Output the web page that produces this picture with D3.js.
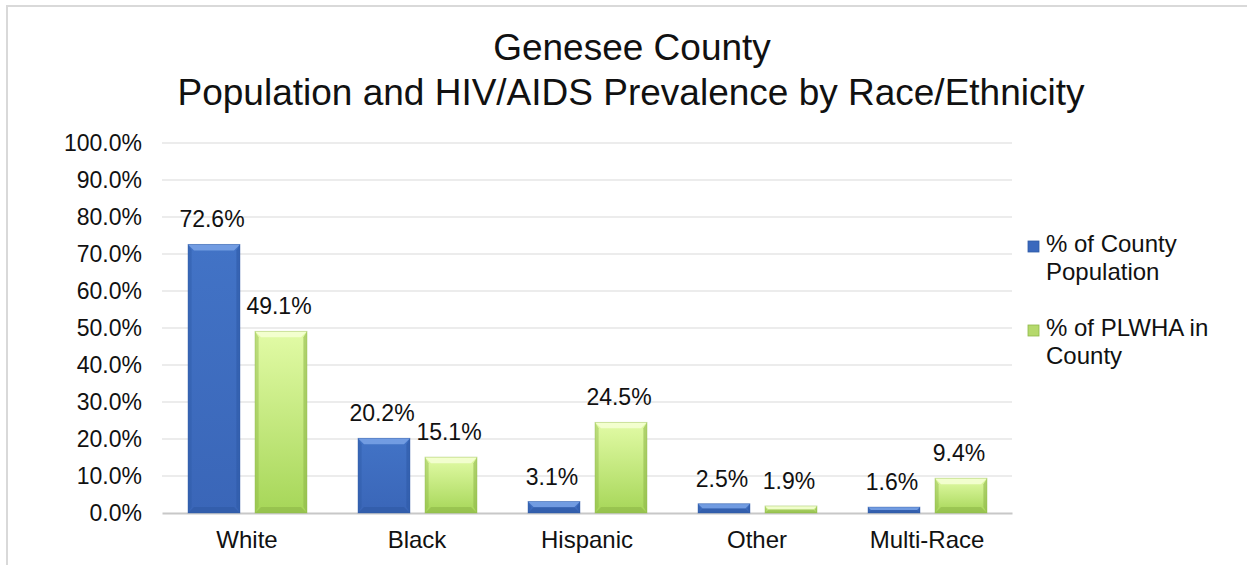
<!DOCTYPE html>
<html>
<head>
<meta charset="utf-8">
<script src="https://cdn.jsdelivr.net/npm/d3@7"></script>
<style>
  body { margin: 0; background: #fff; }
  text { font-family: "Liberation Sans", Arial, sans-serif; fill: #111; }
</style>
</head>
<body>
<script>
const categories = ["White", "Black", "Hispanic", "Other", "Multi-Race"];
const seriesNames = ["% of County Population", "% of PLWHA in County"];
const popValues = [72.6, 20.2, 3.1, 2.5, 1.6];
const plwhaValues = [49.1, 15.1, 24.5, 1.9, 9.4];
const yTicks = [0, 10, 20, 30, 40, 50, 60, 70, 80, 90, 100];
const legendLines = [["% of County", "Population"], ["% of PLWHA in", "County"]];

const width = 1247, height = 565;
const plot = { left: 162, right: 1012, top: 143, bottom: 513 };

const svg = d3.select("body").append("svg")
  .attr("width", width)
  .attr("height", height);

// outer chart border
svg.append("rect")
  .attr("x", 7).attr("y", 6)
  .attr("width", width + 20).attr("height", height + 20)
  .attr("fill", "none")
  .attr("stroke", "#d9d9d9")
  .attr("stroke-width", 2);

// gradients
const defs = svg.append("defs");
const blueGrad = defs.append("linearGradient").attr("id", "gBlue")
  .attr("x1", 0).attr("y1", 0).attr("x2", 0).attr("y2", 1);
blueGrad.append("stop").attr("offset", "0%").attr("stop-color", "#4273c6");
blueGrad.append("stop").attr("offset", "100%").attr("stop-color", "#3a66b8");
const greenGrad = defs.append("linearGradient").attr("id", "gGreen")
  .attr("x1", 0).attr("y1", 0).attr("x2", 0).attr("y2", 1);
greenGrad.append("stop").attr("offset", "0%").attr("stop-color", "#e2fba6");
greenGrad.append("stop").attr("offset", "100%").attr("stop-color", "#a6d658");

const styles = [
  { fill: "url(#gBlue)", top: "#7aa3e6", side: "#2f5aa6", bottom: "#2c56a0", swatch: "#3a68bd" },
  { fill: "url(#gGreen)", top: "#f6ffd6", side: "#8fb84a", bottom: "#88b043", swatch: "#b5d96c" }
];

// title
const title = svg.append("text")
  .attr("text-anchor", "middle")
  .style("font-size", "37px");
title.append("tspan").attr("x", 632).attr("y", 60).text("Genesee County");
title.append("tspan").attr("x", 631).attr("y", 105).text("Population and HIV/AIDS Prevalence by Race/Ethnicity");

const y = d3.scaleLinear().domain([0, 100]).range([plot.bottom, plot.top]);
const x0 = d3.scaleBand().domain(categories).range([plot.left, plot.right]);
const x1 = d3.scaleBand().domain([0, 1]).range([26, 145]).paddingInner(0.224);

// gridlines
svg.append("g")
  .selectAll("line")
  .data(yTicks.slice(1))
  .join("line")
  .attr("x1", plot.left).attr("x2", plot.right)
  .attr("y1", d => y(d)).attr("y2", d => y(d))
  .attr("stroke", "#d9d9d9").attr("stroke-width", 1);

// y axis labels
const yAxis = svg.append("g")
  .attr("transform", `translate(${plot.left},0)`)
  .call(d3.axisLeft(y).tickValues(yTicks).tickSize(0).tickPadding(20)
    .tickFormat(d => d.toFixed(1) + "%"));
yAxis.select(".domain").remove();
yAxis.selectAll("text").style("font-size", "23px").attr("fill", "#111")
  .style("font-family", "'Liberation Sans', Arial, sans-serif");

// x axis
const xAxis = svg.append("g")
  .attr("transform", `translate(0,${plot.bottom})`)
  .call(d3.axisBottom(x0).tickSize(0).tickPadding(18));
xAxis.select(".domain").attr("stroke", "#c8c8c8").attr("stroke-width", 2);
xAxis.selectAll("text").style("font-size", "24px").attr("fill", "#111")
  .style("font-family", "'Liberation Sans', Arial, sans-serif");

// bars
const rows = categories.map((c, i) => ({ cat: c, vals: [popValues[i], plwhaValues[i]] }));
const bars = rows.flatMap(r => r.vals.map((v, s) => ({ cat: r.cat, s, v })));

svg.append("g").selectAll("g")
  .data(bars)
  .join("g")
  .each(function (d) {
    const g = d3.select(this);
    const bx = x0(d.cat) + x1(d.s);
    const bw = x1.bandwidth();
    const by = y(d.v);
    const bh = plot.bottom - by;
    const st = styles[d.s];
    const b = Math.min(6, bh / 2);
    g.append("rect").attr("x", bx).attr("y", by).attr("width", bw).attr("height", bh)
      .attr("fill", st.fill);
    // bevel: top
    g.append("polygon")
      .attr("points", [[bx, by], [bx + bw, by], [bx + bw - b, by + b], [bx + b, by + b]].join(" "))
      .attr("fill", st.top).attr("opacity", 0.85);
    // bevel: sides
    g.append("polygon")
      .attr("points", [[bx, by], [bx + b * 0.6, by + b], [bx + b * 0.6, by + bh - b], [bx, by + bh]].join(" "))
      .attr("fill", st.side).attr("opacity", 0.45);
    g.append("polygon")
      .attr("points", [[bx + bw, by], [bx + bw - b * 0.6, by + b], [bx + bw - b * 0.6, by + bh - b], [bx + bw, by + bh]].join(" "))
      .attr("fill", st.side).attr("opacity", 0.6);
    // bevel: bottom
    g.append("polygon")
      .attr("points", [[bx, by + bh], [bx + bw, by + bh], [bx + bw - b, by + bh - b], [bx + b, by + bh - b]].join(" "))
      .attr("fill", st.bottom).attr("opacity", 0.5);
    g.append("rect").attr("x", bx).attr("y", by).attr("width", bw).attr("height", bh)
      .attr("fill", "none").attr("stroke", st.side).attr("stroke-opacity", 0.5).attr("stroke-width", 0.8);
  });

// value labels
svg.append("g").selectAll("text")
  .data(bars)
  .join("text")
  .attr("x", d => x0(d.cat) + x1(d.s) + x1.bandwidth() / 2 - 2)
  .attr("y", d => y(d.v) - 17)
  .attr("text-anchor", "middle")
  .style("font-size", "23px")
  .text(d => d.v.toFixed(1) + "%");

// legend
const legend = svg.append("g").selectAll("g")
  .data(seriesNames)
  .join("g")
  .attr("transform", (d, i) => `translate(1028,${241 + i * 84})`);
legend.append("rect")
  .attr("width", 11).attr("height", 11)
  .attr("fill", (d, i) => styles[i].swatch)
  .attr("stroke", (d, i) => styles[i].side).attr("stroke-width", 0.8);
legend.append("text")
  .style("font-size", "24px")
  .selectAll("tspan")
  .data((d, i) => legendLines[i])
  .join("tspan")
  .attr("x", 18)
  .attr("y", (l, j) => 11 + j * 28)
  .text(l => l);
</script>
</body>
</html>
